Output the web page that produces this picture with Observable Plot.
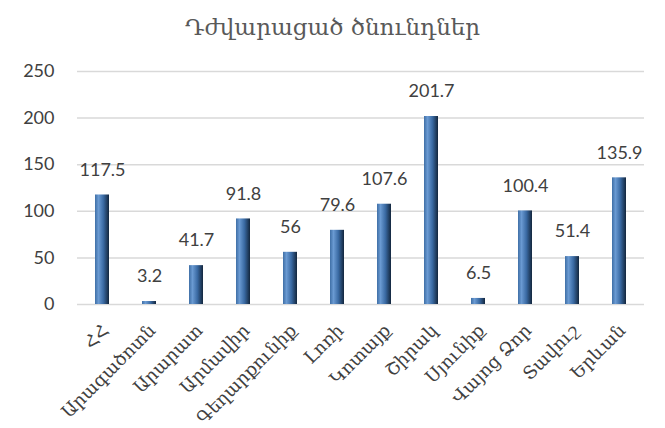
<!DOCTYPE html>
<html><head><meta charset="utf-8">
<script src="https://cdn.jsdelivr.net/npm/d3@7"></script>
<script src="https://cdn.jsdelivr.net/npm/@observablehq/plot@0.6"></script>
<style>
body{margin:0;background:#fff;}
#title{height:50px;width:665px;text-align:center;font-family:"DejaVu Serif",serif;font-size:23px;color:#595959;line-height:54px;}
</style></head>
<body>
<div id="title">Դժվարացած ծնունդներ</div>
<div id="chart"></div>
<script>
const categories = ["ՀՀ","Արագածոտն","Արարատ","Արմավիր","Գեղարքունիք","Լոռի","Կոտայք","Շիրակ","Սյունիք","Վայոց Ձոր","Տավուշ","Երևան"];
const values = [117.5,3.2,41.7,91.8,56,79.6,107.6,201.7,6.5,100.4,51.4,135.9];
const yTicks = [0,50,100,150,200,250];
const labels = ["117.5","3.2","41.7","91.8","56","79.6","107.6","201.7","6.5","100.4","51.4","135.9"];
const data = categories.map((c,i)=>({cat:c, v:values[i], label:labels[i]}));

const plot = Plot.plot({
  width:665, height:378,
  marginTop:21, marginBottom:124, marginLeft:77, marginRight:21,
  style:{fontFamily:"Lato, sans-serif", fontSize:"18px", color:"#404040", background:"#fff"},
  x:{domain:categories, paddingInner:0.7, paddingOuter:0.35, label:null},
  y:{domain:[0,250], label:null},
  marks:[
    Plot.gridY(yTicks,{stroke:"#d9d9d9", strokeOpacity:1, strokeWidth:1.5}),
    Plot.axisY(yTicks,{tickSize:0, tickPadding:23, label:null, fontSize:18, fontFamily:"Lato, sans-serif"}),
    Plot.axisX({tickSize:0, tickRotate:-45, tickPadding:23, dx:3, label:null, fontSize:18, fontFamily:"DejaVu Serif, serif"}),
    Plot.barY(data,{x:"cat", y:"v", fill:"url(#barGrad)"}),
    Plot.text(data,{x:"cat", y:"v", text:"label", dy:-25, fontSize:18, fill:"#404040", fontFamily:"Lato, sans-serif"})
  ]
});
const svg = d3.select(plot);
const defs = svg.insert("defs",":first-child");
const g = defs.append("linearGradient").attr("id","barGrad").attr("x1","0").attr("x2","1").attr("y1","0").attr("y2","0");
g.append("stop").attr("offset","0%").attr("stop-color","#3f6fa6");
g.append("stop").attr("offset","25%").attr("stop-color","#6a9ad2");
g.append("stop").attr("offset","60%").attr("stop-color","#3a6aa3");
g.append("stop").attr("offset","100%").attr("stop-color","#13263d");
document.getElementById("chart").appendChild(plot);
</script>
</body></html>
